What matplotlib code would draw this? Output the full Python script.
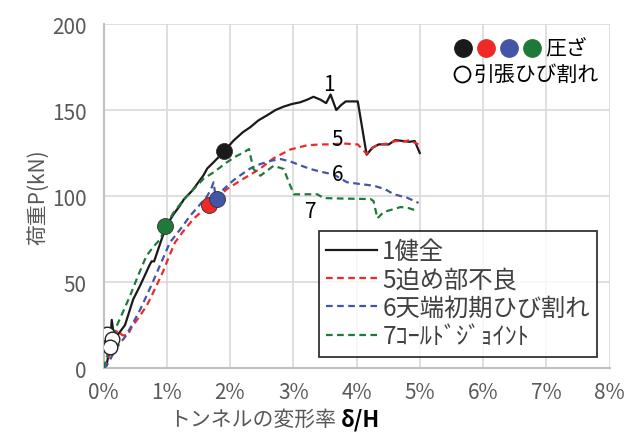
import matplotlib
matplotlib.use("Agg")
import matplotlib.pyplot as plt

plt.rcParams['font.family'] = ['Noto Sans CJK JP', 'DejaVu Sans']

# 変形率 (%) と荷重 P (kN)
x1 = [0, 0.05, 0.10, 0.13, 0.16, 0.22, 0.34, 0.47, 0.58, 0.68, 0.73, 0.76, 0.80, 0.92, 1.00,
      1.10, 1.20, 1.27, 1.32, 1.40, 1.48, 1.58, 1.64, 1.75, 1.91, 2.05, 2.20, 2.32, 2.45,
      2.59, 2.72, 2.85, 2.98, 3.11, 3.22, 3.32, 3.43, 3.52, 3.59, 3.68, 3.76, 3.83, 4.02,
      4.16, 4.25, 4.35, 4.51, 4.61, 4.73, 4.84, 4.92, 5.00]
y1 = [0, 2, 12, 28, 20, 19, 25, 40, 48, 56, 60, 62, 62, 75, 83,
      89, 94, 98, 100, 103, 107, 112, 116, 120, 126, 132, 137, 140, 144,
      147, 150, 152, 153.5, 154.5, 156, 157.7, 156, 154, 159, 150, 153, 155, 155,
      124, 128, 130, 130, 132.5, 132, 131.5, 132, 125]

x5 = [0, 0.08, 0.15, 0.22, 0.30, 0.38, 0.45, 0.55, 0.68, 0.80, 0.94, 1.05, 1.13, 1.25, 1.42,
      1.55, 1.66, 1.69, 1.80, 1.95, 2.08, 2.21, 2.35, 2.48, 2.69, 2.95, 3.22, 3.43, 3.59,
      3.80, 4.02, 4.16, 4.25, 4.35, 4.51, 4.61, 4.73, 4.84, 4.92, 4.98]
y5 = [0, 6, 14, 22, 19, 19, 24, 29, 36, 45, 56, 66, 73, 79, 86.6,
      91, 95, 93, 99, 104, 107, 110, 113, 116, 122, 127, 129.5, 130, 130,
      130.5, 130, 124.5, 128, 130, 130.5, 132, 131.5, 132.5, 131, 130]

x6 = [0, 0.05, 0.12, 0.21, 0.34, 0.45, 0.58, 0.68, 0.78, 0.92, 1.05, 1.20, 1.37, 1.50, 1.64,
      1.70, 1.74, 1.77, 1.79, 1.90, 2.05, 2.20, 2.32, 2.48, 2.65, 2.80, 2.96, 3.10, 3.27,
      3.45, 3.64, 3.85, 4.05, 4.27, 4.45, 4.59, 4.80, 4.98]
y6 = [0, 1.3, 6, 12, 18, 25, 34, 42, 50, 62, 73, 80, 88.5, 94, 100,
      104, 108, 100, 98.5, 104, 109, 113, 116, 118.6, 120.5, 121.5, 120, 118, 115.7,
      114, 112.5, 108, 107, 106, 104, 101, 99, 96]

x7 = [0, 0.05, 0.12, 0.21, 0.30, 0.42, 0.55, 0.68, 0.80, 0.90, 0.98, 1.10, 1.27, 1.40, 1.58,
      1.75, 1.95, 2.11, 2.20, 2.30, 2.37, 2.48, 2.56, 2.69, 2.85, 2.93, 3.01, 3.20, 3.38,
      3.48, 3.80, 4.10, 4.22, 4.27, 4.33, 4.43, 4.55, 4.70, 4.82, 4.95]
y7 = [0, 6, 15, 24.6, 32, 42, 54, 65.3, 71, 75, 82.5, 90, 98, 103, 110,
      114, 119.6, 123.4, 125, 127.3, 115.7, 111.8, 114, 117.6, 115.7, 108, 101, 101, 101,
      98.8, 98.5, 98.3, 98.3, 97, 87, 90.7, 92, 93.6, 93, 91.5]

labels = ['1健全', '5迫め部不良', '6天端初期ひび割れ', '7ｺｰﾙﾄﾞｼﾞｮｲﾝﾄ']
colors = ['#1a1a1a', '#f02828', '#4455a8', '#1f7a3a']

# 圧ざ点 (各ケース) と引張ひび割れ点
crush_x = [1.91, 1.66, 1.79, 0.98]
crush_y = [126, 95, 98.5, 82.5]
crack_x = [0.05, 0.13, 0.10]
crack_y = [20, 17, 12]

xticks = [0, 1, 2, 3, 4, 5, 6, 7, 8]
yticks = [0, 50, 100, 150, 200]

fig = plt.figure(figsize=(6.3, 4.35), dpi=100)
ax = fig.add_axes([0.1643, 0.1517, 0.8032, 0.7908])

series = [(x1, y1), (x5, y5), (x6, y6), (x7, y7)]
for i, (xs, ys) in enumerate(series):
    ls = '-' if i == 0 else (0, (3, 2))
    ax.plot(xs, ys, color=colors[i], lw=1.6, linestyle=ls, label=labels[i], zorder=3)

for i in range(4):
    ax.plot(crush_x[i], crush_y[i], 'o', ms=11.5, color=colors[i],
            mec='#333333', mew=0.6, zorder=5)
ax.plot(crack_x, crack_y, 'o', ms=10.5, mfc='white', mec='#222222', mew=1.0,
        zorder=6, linestyle='none')

# 曲線番号
ax.text(3.56, 165, '1', fontsize=15, ha='center', va='center')
ax.text(3.70, 133, '5', fontsize=15, ha='center', va='center')
ax.text(3.70, 113, '6', fontsize=15, ha='center', va='center')
ax.text(3.27, 91, '7', fontsize=15, ha='center', va='center')

ax.set_xlim(0, 8)
ax.set_ylim(0, 200)
ax.set_xticks(xticks)
ax.set_xticklabels([f'{t}%' for t in xticks])
ax.set_yticks(yticks)
ax.tick_params(length=0, labelsize=15, labelcolor='#595959')
ax.tick_params(axis='y', pad=12)
ax.tick_params(axis='x', pad=9)
ax.grid(True, color='#d9d9d9', lw=1.2)
ax.set_axisbelow(True)
for s in ['top', 'right']:
    ax.spines[s].set_visible(False)
for s in ['left', 'bottom']:
    ax.spines[s].set_color('#bfbfbf')
    ax.spines[s].set_linewidth(1.5)

ax.set_ylabel('荷重P(kN)', fontsize=15, color='#595959', labelpad=2)
fig.text(336 / 630, 1 - 420 / 435, 'トンネルの変形率', fontsize=15, color='#595959',
         ha='right', va='center')
fig.text(341 / 630, 1 - 420 / 435, 'δ/H', fontsize=16, fontweight='bold', color='black',
         ha='left', va='center')

# 記号の説明
for i, c in enumerate(colors):
    ax.plot((463 + 23 * i - 103.5) / 506, (369 - 49) / 344, 'o', ms=12.5, color=c,
            transform=ax.transAxes, clip_on=False)
ax.text((545 - 103.5) / 506, (369 - 49) / 344, '圧ざ', fontsize=15, transform=ax.transAxes,
        ha='left', va='center')
ax.plot((462 - 103.5) / 506, (369 - 75) / 344, 'o', ms=11.5, mfc='white', mec='black',
        mew=1.3, transform=ax.transAxes, clip_on=False)
ax.text((473 - 103.5) / 506, (369 - 75) / 344, '引張ひび割れ', fontsize=15,
        transform=ax.transAxes, ha='left', va='center')

leg = ax.legend(loc='upper left', bbox_to_anchor=(0.426, 0.399), fontsize=17.5,
                frameon=True, fancybox=False, edgecolor='black', handlelength=2.1,
                handletextpad=0.2, labelspacing=0.1, borderpad=0.3, borderaxespad=0)
leg.get_frame().set_linewidth(1.3)
for t in leg.get_texts():
    t.set_color('#404040')

fig.savefig('out.png', dpi=100, facecolor='white')
